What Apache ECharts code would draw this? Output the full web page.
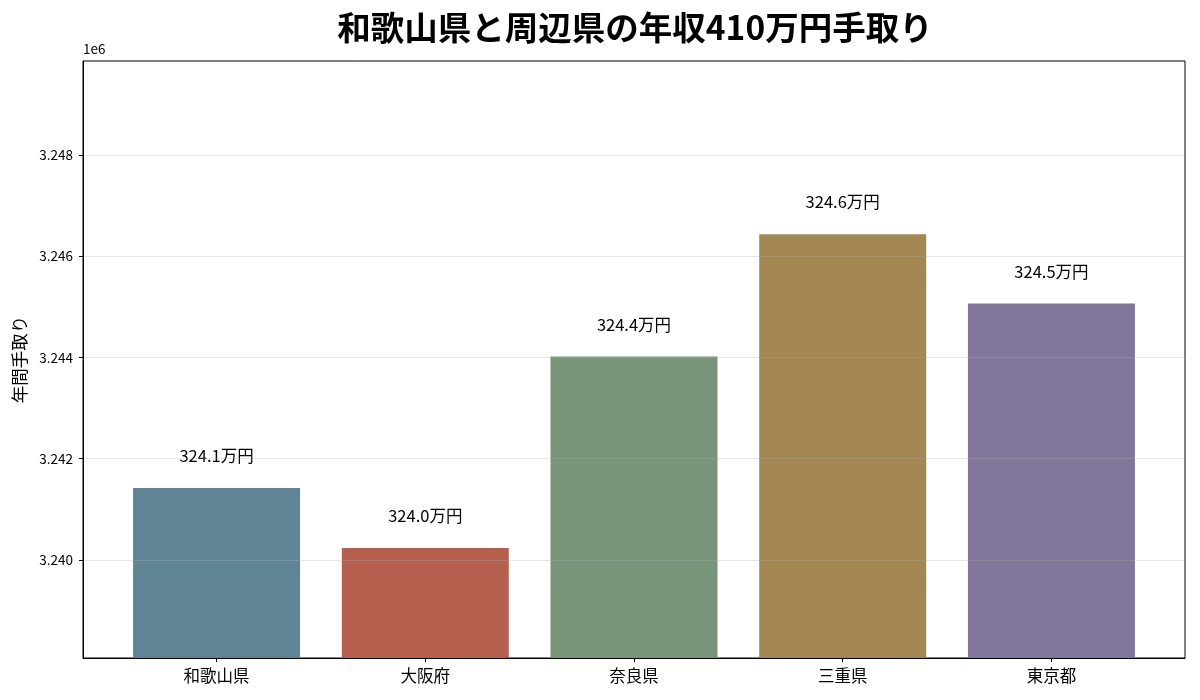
<!DOCTYPE html>
<html>
<head>
<meta charset="utf-8">
<script src="https://cdn.jsdelivr.net/npm/echarts@6/dist/echarts.min.js"></script>
<style>
  html, body { margin: 0; padding: 0; background: #fff; }
  #main { width: 1200px; height: 700px; }
</style>
</head>
<body>
<div id="main"></div>
<script>
// ==============================
// データ
// ==============================

const prefectures = ['和歌山県', '大阪府', '奈良県', '三重県', '東京都'];

const takeHome = [3241422, 3240237, 3244020, 3246435, 3245067];

const barColors = ['#5f8496', '#b5604f', '#78957a', '#a38753', '#82769b'];

const yTicks = [3240000, 3242000, 3244000, 3246000, 3248000];

const xTicks = [0, 1, 2, 3, 4];

const FONT = '"Noto Sans CJK JP", "Noto Sans", sans-serif';


// ==============================
// ECharts
// ==============================

const myChart = echarts.init(document.getElementById('main'));

myChart.setOption({

    backgroundColor: '#ffffff',

    animation: false,

    textStyle: { fontFamily: FONT },

    title: {
        text: '和歌山県と周辺県の年収410万円手取り',
        left: 630,
        textAlign: 'center',
        top: 6,
        textStyle: {
            fontFamily: FONT,
            fontSize: 33.5,
            fontWeight: 'bold',
            color: '#000'
        }
    },

    grid: {
        left: 83,
        right: 15,
        top: 61,
        bottom: 42,
        show: true,
        borderColor: '#000',
        borderWidth: 1
    },

    graphic: [{
        type: 'text',
        left: 83,
        top: 42,
        style: {
            text: '1e6',
            fontFamily: FONT,
            fontSize: 13.5,
            fill: '#000'
        }
    }],

    xAxis: {
        type: 'value',
        min: -0.64,
        max: 4.64,
        axisLine: { show: true, onZero: false, lineStyle: { color: '#000' } },
        axisTick: {
            show: true,
            customValues: xTicks,
            length: 4,
            lineStyle: { color: '#000' }
        },
        axisLabel: {
            customValues: xTicks,
            formatter: v => prefectures[v],
            fontFamily: FONT,
            fontSize: 16.5,
            color: '#000',
            margin: 9
        },
        splitLine: { show: false }
    },

    yAxis: {
        type: 'value',
        min: 3238064,
        max: 3249857,
        z: 3,
        name: '年間手取り',
        nameLocation: 'middle',
        nameGap: 51,
        nameTextStyle: {
            fontFamily: FONT,
            fontSize: 17.5,
            color: '#000'
        },
        axisLine: { show: true, onZero: false, lineStyle: { color: '#000' } },
        axisTick: {
            show: true,
            customValues: yTicks,
            length: 4,
            lineStyle: { color: '#000' }
        },
        axisLabel: {
            customValues: yTicks,
            formatter: v => (v / 1e6).toFixed(3),
            fontFamily: FONT,
            fontSize: 13.5,
            color: '#000',
            margin: 10
        },
        splitLine: {
            show: true,
            lineStyle: { color: 'rgba(176,176,176,0.3)', width: 1 }
        }
    },

    series: [{
        type: 'bar',
        barWidth: 167,
        data: takeHome.map((v, i) => ({
            value: [xTicks[i], v],
            itemStyle: { color: barColors[i] }
        })),
        label: {
            show: true,
            position: 'top',
            distance: 24,
            formatter: p => (p.value[1] / 10000).toFixed(1) + '万円',
            fontFamily: FONT,
            fontSize: 16.5,
            color: '#000'
        }
    }]

});
</script>
</body>
</html>
